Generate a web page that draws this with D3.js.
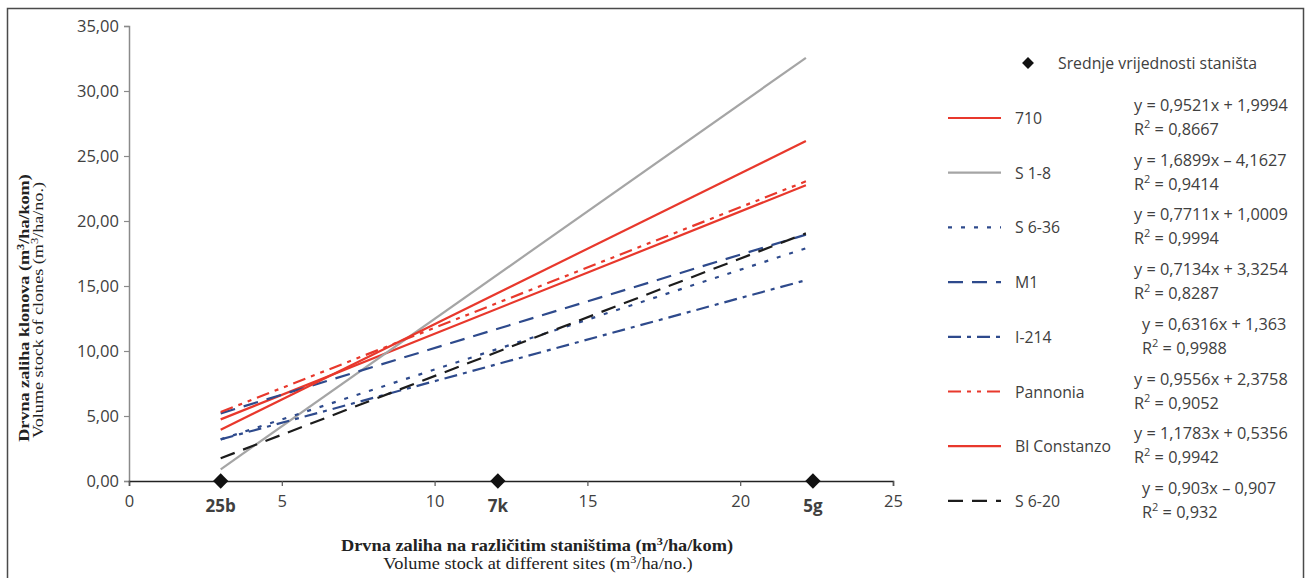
<!DOCTYPE html>
<html>
<meta charset="utf-8">
<head>
  <title>Drvna zaliha klonova</title>
</head>
<style>
body { margin: 0; background: #fff; }
text { font-family: "Open Sans", "Noto Sans", sans-serif; fill: #404040; }
.serif { font-family: "Liberation Serif", "DejaVu Serif", serif; fill: #222; }
</style>
<body>
  <svg id="chart" width="1309" height="578"></svg>

  <script src="https://cdnjs.cloudflare.com/ajax/libs/d3/7.8.5/d3.min.js"></script>
  <script>
var width = 1309, height = 578

// sites (mean values of sites, plotted on the x axis)
var sites = ['25b', '7k', '5g']
var siteX = [3, 12.07, 22.38]

// trend lines: names, start / end x, y at start and y at end
var names = ['710', 'S 1-8', 'S 6-36', 'M1', 'I-214', 'Pannonia', 'Bl Constanzo', 'S 6-20']
var lineX = [3, 22.15]
var startY = [4.74, 0.9, 3.2, 5.2, 3.2, 5.3, 3.95, 1.75]
var endY = [22.75, 32.55, 17.9, 18.95, 15.45, 23.05, 26.15, 19.05]
var equations = ['y = 0,9521x + 1,9994', 'y = 1,6899x \u2013 4,1627', 'y = 0,7711x + 1,0009',
  'y = 0,7134x + 3,3254', 'y = 0,6316x + 1,363', 'y = 0,9556x + 2,3758',
  'y = 1,1783x + 0,5356', 'y = 0,903x \u2013 0,907']
var r2 = ['0,8667', '0,9414', '0,9994', '0,8287', '0,9988', '0,9052', '0,9942', '0,932']

var xTicks = [0, 5, 10, 15, 20, 25]
var yTicks = [0, 5, 10, 15, 20, 25, 30, 35]

// styles
var red = '#e8382c', blue = '#2e4a8c', grey = '#a5a5a5', black = '#1c1c1c'
var colors = [red, grey, blue, blue, blue, red, red, black]
var dashes = [null, null, '4,9', '15,9', '13,6,4,6', '13,6,4,6,4,6', null, '15,9']
var eqShift = [0, 0, 0, 0, 8, 0, 0, 8]

var svg = d3.select('#chart')

// outer frame
svg.append('rect')
  .attr('x', 7.5).attr('y', 8.5)
  .attr('width', 1296).attr('height', 590)
  .attr('fill', '#fff').attr('stroke', '#4a4a4a').attr('stroke-width', 1.5)

var x = d3.scaleLinear().domain([0, 25]).range([129, 893])
var y = d3.scaleLinear().domain([0, 35]).range([481, 26])

// y axis
var yAxis = svg.append('g')
  .attr('transform', 'translate(' + x(0) + ',0)')
  .call(d3.axisLeft(y).tickValues(yTicks).tickSize(5).tickPadding(5)
    .tickFormat(function(d) { return d3.format('.2f')(d).replace('.', ',') }))
yAxis.select('.domain').attr('stroke', '#8a8a8a').attr('stroke-width', 1.5)
yAxis.selectAll('.tick line').attr('stroke', '#8a8a8a').attr('stroke-width', 1.2)
yAxis.selectAll('.tick text').attr('font-size', 16.5).attr('fill', '#404040')
  .style('font-family', '"Open Sans", sans-serif')

// x axis
var xAxis = svg.append('g')
  .attr('transform', 'translate(0,' + y(0) + ')')
  .call(d3.axisBottom(x).tickValues(xTicks).tickSize(5).tickPadding(9))
xAxis.select('.domain').attr('stroke', '#222').attr('stroke-width', 1.5)
xAxis.selectAll('.tick line').attr('stroke', '#555').attr('stroke-width', 1.2)
xAxis.selectAll('.tick text').attr('font-size', 16.5).attr('fill', '#404040')
  .style('font-family', '"Open Sans", sans-serif')

// site labels
svg.append('g').selectAll('text')
  .data(sites)
  .enter()
  .append('text')
  .attr('x', function(d, i) { return x(siteX[i]) })
  .attr('y', 512)
  .attr('text-anchor', 'middle')
  .attr('font-size', 17)
  .attr('font-weight', 'bold')
  .attr('fill', '#333')
  .text(function(d) { return d })

// trend lines
var line = d3.line()
  .x(function(d) { return x(d[0]) })
  .y(function(d) { return y(d[1]) })

svg.append('g').selectAll('path')
  .data(names)
  .enter()
  .append('path')
  .attr('d', function(d, i) { return line([[lineX[0], startY[i]], [lineX[1], endY[i]]]) })
  .attr('fill', 'none')
  .attr('stroke', function(d, i) { return colors[i] })
  .attr('stroke-width', 2.2)
  .attr('stroke-dasharray', function(d, i) { return dashes[i] })

// site diamonds
var diamond = d3.symbol().type(d3.symbolDiamond2).size(150)
svg.append('g').selectAll('path')
  .data(sites)
  .enter()
  .append('path')
  .attr('d', diamond)
  .attr('transform', function(d, i) { return 'translate(' + x(siteX[i]) + ',' + y(0) + ')' })
  .attr('fill', '#111')

// axis titles (the original type is a bit wider than Times)
svg.append('text').attr('class', 'serif')
  .attr('transform', 'translate(537,551) scale(1.11,1)')
  .attr('text-anchor', 'middle').attr('font-size', 16.5).attr('font-weight', 'bold')
  .html('Drvna zaliha na razli\u010ditim stani\u0161tima (m<tspan baseline-shift="super" font-size="11">3</tspan>/ha/kom)')
svg.append('text').attr('class', 'serif')
  .attr('transform', 'translate(538,569) scale(1.11,1)')
  .attr('text-anchor', 'middle').attr('font-size', 16.5)
  .html('Volume stock at different sites (m<tspan baseline-shift="super" font-size="11">3</tspan>/ha/no.)')

svg.append('text').attr('class', 'serif')
  .attr('transform', 'translate(29,308) scale(1,1.25) rotate(-90)')
  .attr('text-anchor', 'middle').attr('font-size', 14.5).attr('font-weight', 'bold')
  .html('Drvna zaliha klonova (m<tspan baseline-shift="super" font-size="10">3</tspan>/ha/kom)')
svg.append('text').attr('class', 'serif')
  .attr('transform', 'translate(43,310) scale(1,1.25) rotate(-90)')
  .attr('text-anchor', 'middle').attr('font-size', 14.5)
  .html('Volume stock of clones (m<tspan baseline-shift="super" font-size="10">3</tspan>/ha/no.)')

// legend
var legend = svg.append('g')
legend.append('path')
  .attr('d', d3.symbol().type(d3.symbolDiamond2).size(90))
  .attr('transform', 'translate(1028,63)')
  .attr('fill', '#111')
legend.append('text')
  .attr('x', 1058).attr('y', 69)
  .attr('font-size', 15.8)
  .text('Srednje vrijednosti stani\u0161ta')

var rowY = function(i) { return 118 + i * 54.7 }

var rows = legend.selectAll('g.row')
  .data(names)
  .enter()
  .append('g')
  .attr('class', 'row')
  .attr('transform', function(d, i) { return 'translate(0,' + rowY(i) + ')' })

rows.append('line')
  .attr('x1', 948).attr('x2', 1001)
  .attr('y1', 0).attr('y2', 0)
  .attr('stroke', function(d, i) { return colors[i] })
  .attr('stroke-width', 2.2)
  .attr('stroke-dasharray', function(d, i) { return dashes[i] })

rows.append('text')
  .attr('x', 1015).attr('y', 6)
  .attr('font-size', 15.8)
  .text(function(d) { return d })

rows.append('text')
  .attr('x', function(d, i) { return 1134 + eqShift[i] }).attr('y', -7)
  .attr('font-size', 16.3)
  .text(function(d, i) { return equations[i] })

rows.append('text')
  .attr('x', function(d, i) { return 1134 + eqShift[i] }).attr('y', 17)
  .attr('font-size', 16.3)
  .html(function(d, i) { return 'R<tspan baseline-shift="super" font-size="11">2</tspan> = ' + r2[i] })
  </script>
</body>
</html>
